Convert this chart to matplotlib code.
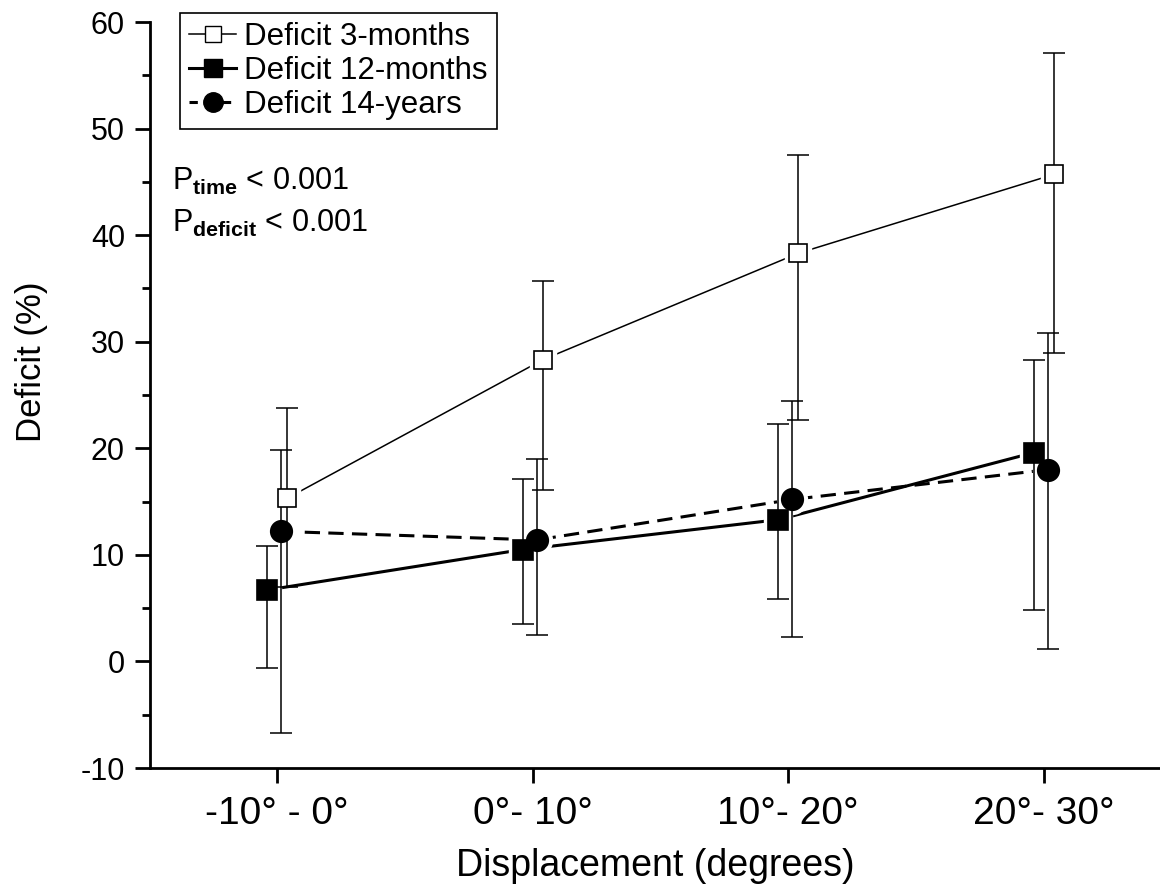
import matplotlib
matplotlib.use("Agg")
import matplotlib.pyplot as plt
from matplotlib.lines import Line2D
from matplotlib.ticker import MultipleLocator
import numpy as np

plt.rcParams['mathtext.fontset'] = 'custom'
plt.rcParams['mathtext.rm'] = 'Liberation Sans'
plt.rcParams['mathtext.bf'] = 'Liberation Sans:bold'
plt.rcParams['lines.scale_dashes'] = False
plt.rcParams['axes.unicode_minus'] = False

categories = ["-10° - 0°", "0°- 10°", "10°- 20°", "20°- 30°"]

m3_mean = [15.3, 28.3, 38.3, 45.7]
m3_upper = [23.8, 35.7, 47.5, 57.1]
m3_lower = [7.0, 16.1, 22.7, 28.9]

m12_mean = [6.7, 10.5, 13.3, 19.6]
m12_upper = [10.8, 17.1, 22.3, 28.3]
m12_lower = [-0.6, 3.5, 5.9, 4.8]

y14_mean = [12.2, 11.4, 15.2, 18.0]
y14_upper = [19.8, 19.0, 24.4, 30.8]
y14_lower = [-6.7, 2.5, 2.3, 1.2]

W, H = 1160, 891
fig = plt.figure(figsize=(W / 100, H / 100), dpi=100)
ax = fig.add_axes([150 / W, 1 - 768 / H, (W - 150) / W, (768 - 22) / H])

x = np.arange(1, len(categories) + 1)
off12, off14, off3 = -0.039, 0.016, 0.039

def draw(xs, mean, lo, up, ls, lw, marker, ms, mfc, dashes=None):
    mean = np.array(mean); lo = np.array(lo); up = np.array(up)
    kw = dict(color='black', lw=lw, zorder=2)
    if dashes:
        ax.plot(xs, mean, linestyle='--', dashes=dashes, **kw)
    else:
        ax.plot(xs, mean, linestyle=ls, **kw)
    # white halo to create gap between line and marker
    ax.plot(xs, mean, linestyle='none', marker=marker, ms=ms + 6, mfc='white',
            mec='white', zorder=3)
    ax.errorbar(xs, mean, yerr=[mean - lo, up - mean], fmt='none', ecolor='black',
                elinewidth=1.1, capsize=8, capthick=1.1, zorder=4)
    ax.plot(xs, mean, linestyle='none', marker=marker, ms=ms, mfc=mfc,
            mec='black', mew=1.2, zorder=5)

draw(x + off3, m3_mean, m3_lower, m3_upper, '-', 1.1, 's', 12.5, 'white')
draw(x + off12, m12_mean, m12_lower, m12_upper, '-', 2.2, 's', 14, 'black')
draw(x + off14, y14_mean, y14_lower, y14_upper, '--', 2.2, 'o', 15.5, 'black', dashes=(11, 6))

ax.set_xlim(0.503, 4.454)
ax.set_ylim(-10, 60)
ax.set_xticks(x)
ax.set_xticklabels(categories)
ax.yaxis.set_major_locator(MultipleLocator(10))
ax.yaxis.set_minor_locator(MultipleLocator(5))
ax.spines['top'].set_visible(False)
ax.spines['right'].set_visible(False)
for s in ['left', 'bottom']:
    ax.spines[s].set_linewidth(2.0)
ax.tick_params(axis='y', which='major', direction='out', length=11, width=2.0,
               labelsize=22, pad=7)
ax.tick_params(axis='y', which='minor', direction='out', length=6, width=2.0)
ax.tick_params(axis='x', which='major', direction='out', length=11, width=2.0, pad=9)
ax.xaxis.set_tick_params(which='minor', bottom=False)

for lab in ax.get_yticklabels():
    lab.set_family('Liberation Sans')
for lab in ax.get_xticklabels():
    lab.set_family('Liberation Sans')
    lab.set_fontsize(28)

ax.set_xlabel("Displacement (degrees)", family='Liberation Sans', fontsize=27)
ax.xaxis.set_label_coords(0.5, -0.107)
ax.set_ylabel("Deficit (%)", family='Liberation Sans', fontsize=25)
ax.yaxis.set_label_coords(-0.101, 0.544)

handles = [
    Line2D([], [], color='black', lw=1.1, marker='s', ms=12, mfc='white', mec='black'),
    Line2D([], [], color='black', lw=2.2, marker='s', ms=13, mfc='black', mec='black'),
    Line2D([], [], color='black', lw=2.2, linestyle='--', dashes=(6, 6), marker='o',
           ms=14, mfc='black', mec='black'),
]
labels = ["Deficit 3-months", "Deficit 12-months", "Deficit 14-years"]
leg = fig.legend(handles, labels, loc='upper left',
                 bbox_to_anchor=(180 / W, 1 - 13 / H), borderaxespad=0,
                 fancybox=False, edgecolor='black', framealpha=1,
                 prop={'family': 'Liberation Sans', 'size': 22.5},
                 handlelength=1.5, handletextpad=0.25, labelspacing=0.12,
                 borderpad=0.3)
leg.get_frame().set_linewidth(1.2)

fig.text(172 / W, 1 - 190 / H, r"P$_{\mathbf{time}}$ < 0.001",
         family='Liberation Sans', fontsize=22)
fig.text(172 / W, 1 - 232 / H, r"P$_{\mathbf{deficit}}$ < 0.001",
         family='Liberation Sans', fontsize=22)

fig.savefig("out.png", dpi=100)
